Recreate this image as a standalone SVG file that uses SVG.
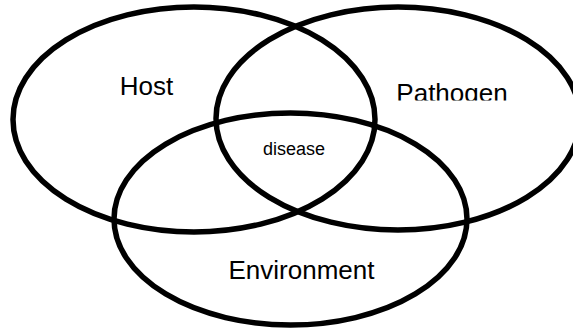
<svg xmlns="http://www.w3.org/2000/svg" width="573" height="330" viewBox="0 0 573 330">
<style>
.ring{fill:none;stroke:#000;stroke-width:5.5}
.lbl{font-family:"Liberation Sans",Arial,sans-serif;font-size:26px;fill:#000;text-anchor:middle}
.small{font-family:"Liberation Sans",Arial,sans-serif;font-size:18px;fill:#000;text-anchor:middle}
</style>
<defs>
<clipPath id="pclip"><rect x="380" y="70" width="150" height="30.5"/></clipPath>
</defs>
<rect width="573" height="330" fill="#fff"/>
<g id="host">
<ellipse class="ring" cx="194" cy="119.5" rx="181" ry="112.5"/>
<text class="lbl" x="146.5" y="95">Host</text>
</g>
<g id="pathogen">
<ellipse class="ring" cx="398" cy="118.5" rx="182" ry="111.5"/>
<text class="lbl" x="452" y="101.5" clip-path="url(#pclip)">Pathogen</text>
</g>
<g id="environment">
<ellipse class="ring" cx="290.5" cy="219" rx="176.5" ry="106"/>
<text class="lbl" x="301.5" y="279">Environment</text>
</g>
<g id="disease">
<text class="small" x="294" y="155">disease</text>
</g>
<g id="connectors"></g>
</svg>
